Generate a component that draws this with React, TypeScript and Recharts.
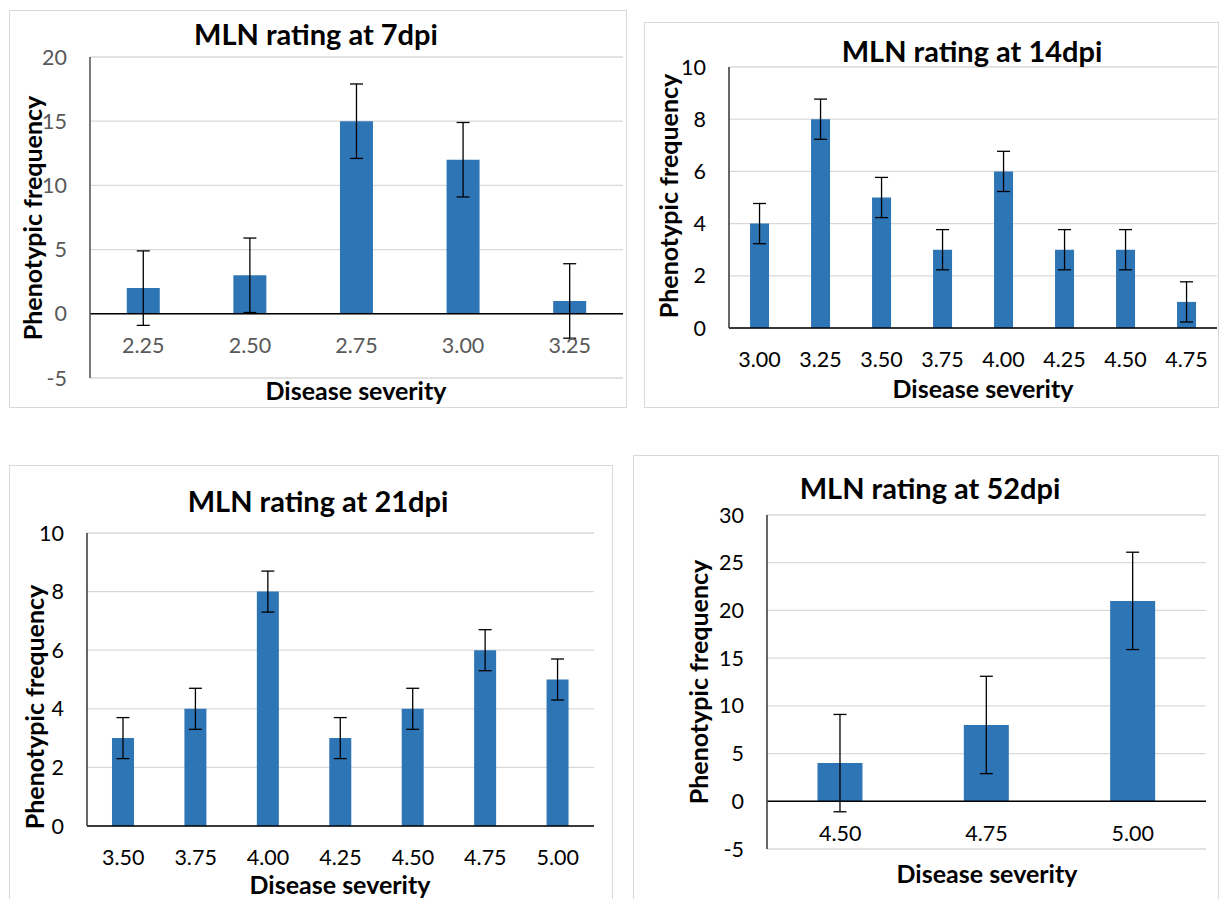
import { Bar, BarChart, CartesianGrid, ErrorBar, ReferenceLine, XAxis, YAxis } from 'recharts';

const FONT = 'Lato, "Open Sans", sans-serif';
const BLUE = '#2E75B6';

// 7 dpi
const severity7 = ['2.25', '2.50', '2.75', '3.00', '3.25'];
const freq7 = [2, 3, 15, 12, 1];
const err7 = [2.9, 2.9, 2.9, 2.9, 2.9];
const ticks7 = [-5, 0, 5, 10, 15, 20];

// 14 dpi
const severity14 = ['3.00', '3.25', '3.50', '3.75', '4.00', '4.25', '4.50', '4.75'];
const freq14 = [4, 8, 5, 3, 6, 3, 3, 1];
const err14 = [0.77, 0.77, 0.77, 0.77, 0.77, 0.77, 0.77, 0.77];
const ticks14 = [0, 2, 4, 6, 8, 10];

// 21 dpi
const severity21 = ['3.50', '3.75', '4.00', '4.25', '4.50', '4.75', '5.00'];
const freq21 = [3, 4, 8, 3, 4, 6, 5];
const err21 = [0.7, 0.7, 0.7, 0.7, 0.7, 0.7, 0.7];
const ticks21 = [0, 2, 4, 6, 8, 10];

// 52 dpi
const severity52 = ['4.50', '4.75', '5.00'];
const freq52 = [4, 8, 21];
const err52 = [5.1, 5.1, 5.1];
const ticks52 = [-5, 0, 5, 10, 15, 20, 25, 30];

type Box = { x: number; y: number; w: number; h: number };
type Plot = { l: number; t: number; r: number; b: number };

type PanelProps = {
  title: string;
  box: Box;
  plot: Plot;
  cats: string[];
  values: number[];
  errors: number[];
  ticks: number[];
  labelShift: number;
  textColor: string;
  axisColor: string;
  zeroInside: boolean;
  titlePos: [number, number];
  xTitlePos: [number, number];
  yTitlePos: [number, number];
};

const Y_AXIS_W = 70;
const X_AXIS_H = 1;

function Panel(p: PanelProps) {
  const data = p.cats.map((name, i) => ({ name, value: p.values[i], err: p.errors[i] }));
  const ox = p.box.x + 1;
  const oy = p.box.y + 1;
  const cw = p.box.w - 2;
  const ch = p.box.h - 2;
  const margin = {
    left: p.plot.l - ox - Y_AXIS_W,
    top: p.plot.t - oy,
    right: ox + cw - p.plot.r,
    bottom: oy + ch - p.plot.b - X_AXIS_H,
  };

  const renderTick = (props: any) => (
    <text
      x={props.x}
      y={p.plot.b - oy + p.labelShift}
      textAnchor="middle"
      dominantBaseline="central"
      fill={p.textColor}
      fontSize={21.5}
      fontFamily={FONT}
    >
      {props.payload.value}
    </text>
  );

  const text = (pos: [number, number], rotate = false) => ({
    position: 'absolute' as const,
    left: pos[0] - ox,
    top: pos[1] - oy,
    transform: `translate(-50%, -50%)${rotate ? ' rotate(-90deg)' : ''}`,
    whiteSpace: 'nowrap' as const,
    fontFamily: FONT,
    fontWeight: 700,
    color: '#000',
    lineHeight: 1,
  });

  return (
    <div
      style={{
        position: 'absolute',
        left: p.box.x,
        top: p.box.y,
        width: p.box.w,
        height: p.box.h,
        border: '1px solid #d9d9d9',
        boxSizing: 'border-box',
        background: '#fff',
      }}
    >
      <BarChart width={cw} height={ch} data={data} margin={margin} barCategoryGap="34.5%">
        <CartesianGrid vertical={false} stroke="#d9d9d9" strokeWidth={1.3} />
        <XAxis
          dataKey="name"
          height={X_AXIS_H}
          tickSize={0}
          tickMargin={0}
          tickLine={false}
          axisLine={p.zeroInside ? false : { stroke: '#000', strokeWidth: 1.6 }}
          tick={renderTick}
          interval={0}
        />
        <YAxis
          width={Y_AXIS_W}
          domain={[p.ticks[0], p.ticks[p.ticks.length - 1]]}
          ticks={p.ticks}
          interval={0}
          tickLine={false}
          tickSize={0}
          tickMargin={23}
          axisLine={{ stroke: p.axisColor, strokeWidth: 1.6 }}
          tick={{ fill: p.textColor, fontSize: 21.5, fontFamily: FONT }}
        />
        {p.zeroInside && <ReferenceLine y={0} stroke="#000" strokeWidth={1.6} />}
        <Bar dataKey="value" fill={BLUE} isAnimationActive={false}>
          <ErrorBar dataKey="err" width={6.5} stroke="#000" strokeWidth={1.3} direction="y" />
        </Bar>
      </BarChart>
      <div style={{ ...text(p.titlePos), fontSize: 29 }}>{p.title}</div>
      <div style={{ ...text(p.xTitlePos), fontSize: 25 }}>Disease severity</div>
      <div style={{ ...text(p.yTitlePos, true), fontSize: 25 }}>Phenotypic frequency</div>
    </div>
  );
}

export default function App() {
  return (
    <div
      style={{
        position: 'fixed',
        left: 0,
        top: 0,
        width: 1219,
        height: 899,
        overflow: 'hidden',
        background: '#fff',
      }}
    >
      <Panel
        title="MLN rating at 7dpi"
        box={{ x: 9, y: 10, w: 618, h: 398 }}
        plot={{ l: 90, t: 57, r: 623, b: 378 }}
        cats={severity7}
        values={freq7}
        errors={err7}
        ticks={ticks7}
        labelShift={-33}
        textColor="#595959"
        axisColor="#595959"
        zeroInside
        titlePos={[316, 33]}
        xTitlePos={[356, 390]}
        yTitlePos={[32, 218]}
      />
      <Panel
        title="MLN rating at 14dpi"
        box={{ x: 644, y: 22, w: 575, h: 386 }}
        plot={{ l: 729, t: 67, r: 1217, b: 328 }}
        cats={severity14}
        values={freq14}
        errors={err14}
        ticks={ticks14}
        labelShift={31}
        textColor="#000"
        axisColor="#404040"
        zeroInside={false}
        titlePos={[972, 50]}
        xTitlePos={[983, 388]}
        yTitlePos={[668, 196]}
      />
      <Panel
        title="MLN rating at 21dpi"
        box={{ x: 9, y: 465, w: 604, h: 450 }}
        plot={{ l: 87, t: 533, r: 594, b: 826 }}
        cats={severity21}
        values={freq21}
        errors={err21}
        ticks={ticks21}
        labelShift={31}
        textColor="#000"
        axisColor="#404040"
        zeroInside={false}
        titlePos={[318, 500]}
        xTitlePos={[340, 884]}
        yTitlePos={[34, 707]}
      />
      <Panel
        title="MLN rating at 52dpi"
        box={{ x: 633, y: 455, w: 586, h: 460 }}
        plot={{ l: 767, t: 515, r: 1206, b: 849 }}
        cats={severity52}
        values={freq52}
        errors={err52}
        ticks={ticks52}
        labelShift={-16}
        textColor="#000"
        axisColor="#404040"
        zeroInside
        titlePos={[930, 487]}
        xTitlePos={[987, 873]}
        yTitlePos={[698, 682]}
      />
    </div>
  );
}
